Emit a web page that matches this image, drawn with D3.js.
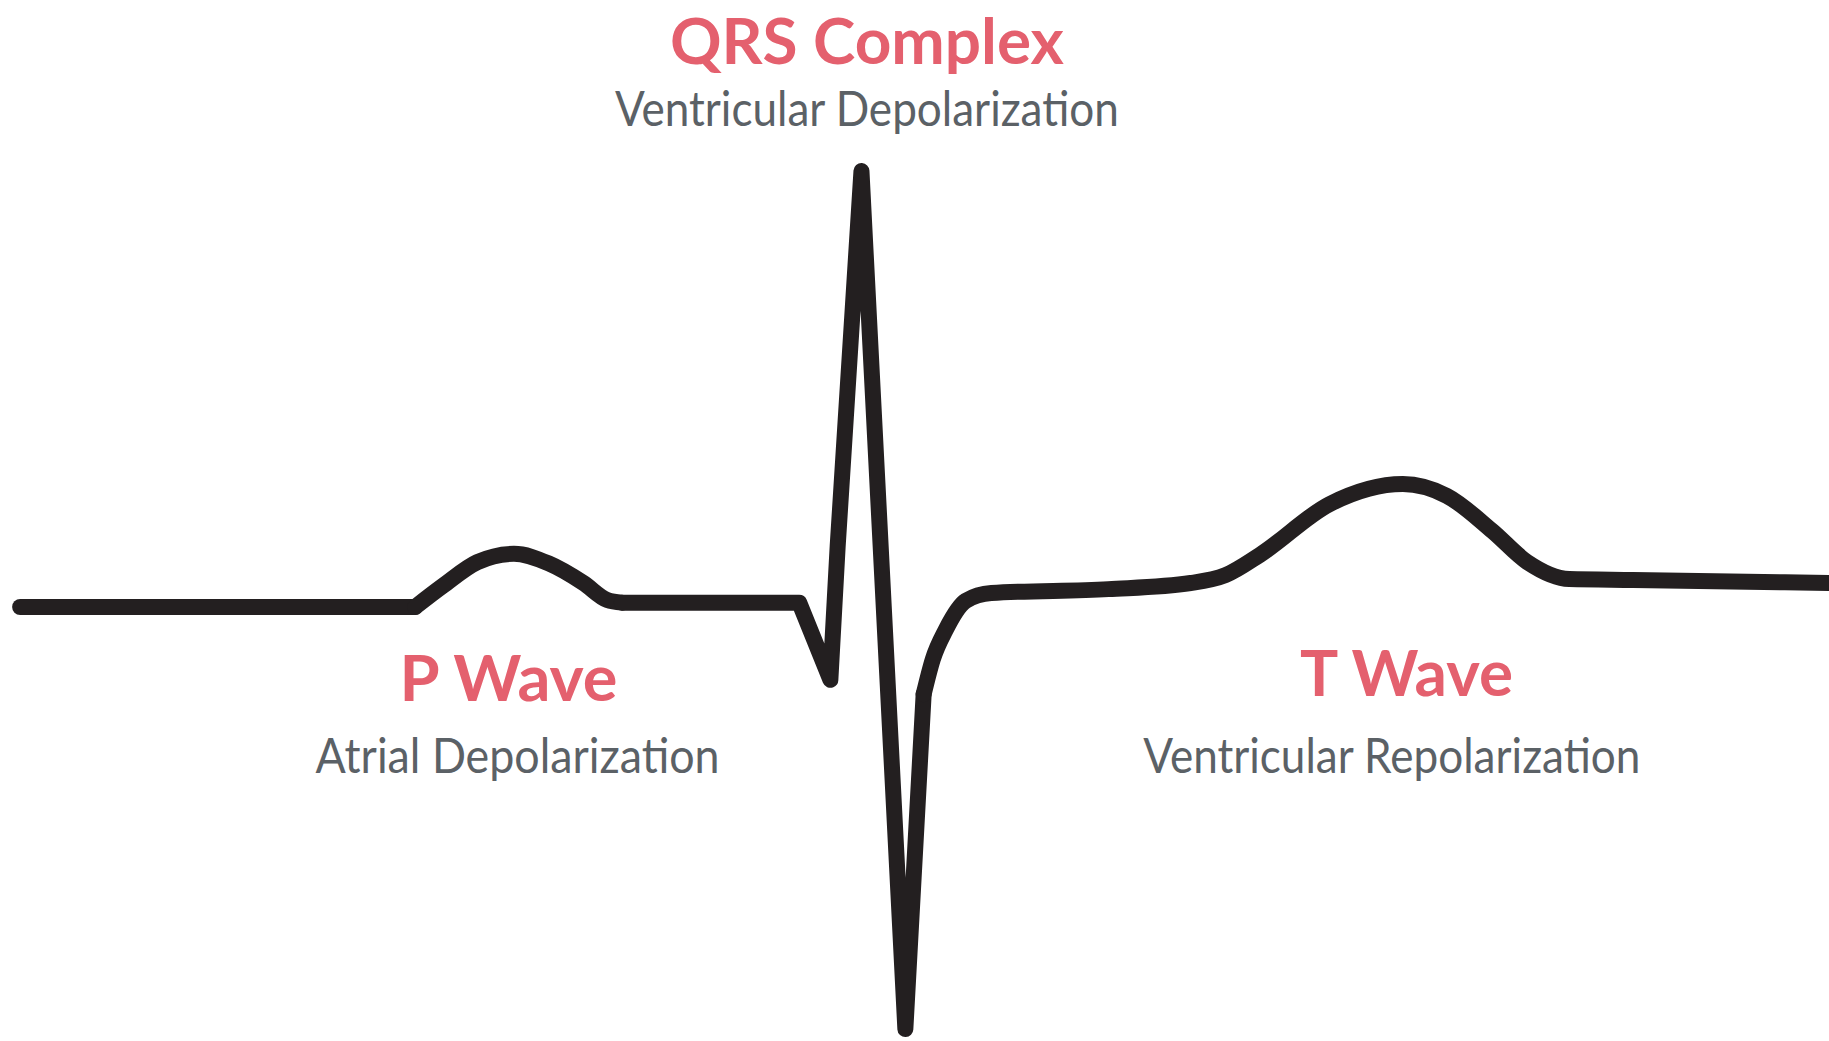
<!DOCTYPE html>
<meta charset="utf-8">
<script src="https://cdn.jsdelivr.net/npm/d3@7"></script>
<style>
  body { margin: 0; background: #fff; }
  .title { font-family: Lato, "Open Sans", sans-serif; font-weight: 700; fill: #e4606e; }
  .sub { font-family: Lato, "Open Sans", sans-serif; font-weight: 400; fill: #5b6166; }
</style>
<div id="my_dataviz"></div>
<script>

  // ECG trace, [time (ms), amplitude (mV)]
  const baseline = [[11, 0], [227, 0]];
  const pWave = [[227, 0], [242, 0.048], [261, 0.103], [281, 0.122], [300, 0.1], [319, 0.055], [332, 0.016], [340, 0.01]];
  const qrs = [[340, 0.01], [437, 0.01], [454, -0.167], [458, 0.14], [471, 1.0], [495, -0.968], [505, -0.2]];
  const stT = [[505, -0.2], [510, -0.12], [517, -0.053], [528, 0.014], [542, 0.032], [606, 0.041], [651, 0.055],
               [670, 0.073], [689, 0.12], [727, 0.236], [767, 0.282], [791, 0.255], [816, 0.174], [835, 0.103],
               [858, 0.064], [893, 0.062], [1000, 0.055]];

  // labels: title, subtitle, time of wave, subtitle time
  const labelTitles = ["QRS Complex", "P Wave", "T Wave"];
  const labelSubs = ["Ventricular Depolarization", "Atrial Depolarization", "Ventricular Repolarization"];
  const labelTimes = [474, 278, 769];
  const subTimes = [474, 283, 761];

  const width = 1829, height = 1041;

  const svg = d3.select("#my_dataviz")
    .append("svg")
      .attr("width", width)
      .attr("height", height);

  const x = d3.scaleLinear().domain([0, 1000]).range([0, width]);
  const y = d3.scaleLinear().domain([0, 1]).range([607, 171]);

  const straight = d3.line().x(d => x(d[0])).y(d => y(d[1]));
  const smooth = d3.line().x(d => x(d[0])).y(d => y(d[1])).curve(d3.curveMonotoneX);

  const trace = svg.append("g")
    .attr("fill", "none")
    .attr("stroke", "#231f20")
    .attr("stroke-width", 16)
    .attr("stroke-linecap", "round")
    .attr("stroke-linejoin", "round");

  trace.append("path").attr("d", straight(baseline));
  trace.append("path").attr("d", smooth(pWave));
  trace.append("path").attr("d", straight(qrs));
  trace.append("path").attr("d", smooth(stT));

  // title + subtitle positions (px): [title baseline, subtitle baseline, title width, subtitle width]
  const layout = [[64, 126, 394, 504], [701, 773, 218, 404], [696, 773, 213, 497]];

  labelTitles.forEach((t, i) => {
    svg.append("text")
      .attr("class", "title")
      .attr("x", x(labelTimes[i]))
      .attr("y", layout[i][0])
      .attr("text-anchor", "middle")
      .attr("font-size", 64)
      .attr("textLength", layout[i][2])
      .attr("lengthAdjust", "spacingAndGlyphs")
      .text(t);
    svg.append("text")
      .attr("class", "sub")
      .attr("x", x(subTimes[i]))
      .attr("y", layout[i][1])
      .attr("text-anchor", "middle")
      .attr("font-size", 48)
      .attr("textLength", layout[i][3])
      .attr("lengthAdjust", "spacingAndGlyphs")
      .text(labelSubs[i]);
  });

</script>
